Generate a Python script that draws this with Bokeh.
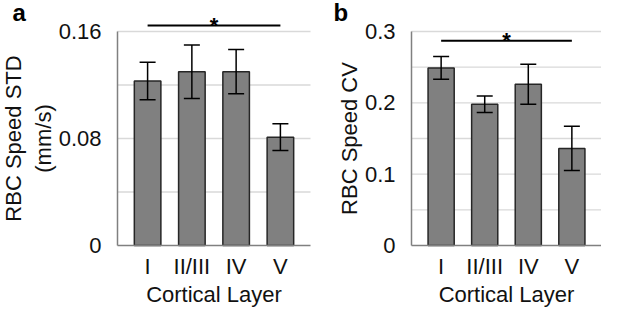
from bokeh.plotting import figure
from bokeh.models import Range1d, FixedTicker, Whisker, ColumnDataSource, Label
from bokeh.core.properties import value
from bokeh.layouts import row
from bokeh.embed import file_html
from bokeh.resources import INLINE

# ---- data ----
layers = ["I", "II/III", "IV", "V"]
std_mean = [0.123, 0.130, 0.130, 0.081]
std_err = [0.014, 0.020, 0.0165, 0.010]
cv_mean = [0.249, 0.198, 0.226, 0.136]
cv_err = [0.016, 0.0115, 0.028, 0.031]
std_ticks = [0, 0.08, 0.16]
std_tick_labels = ["0", "0.08", "0.16"]
std_grid = [0.04, 0.08, 0.12, 0.16]
cv_ticks = [0, 0.1, 0.2, 0.3]
cv_tick_labels = ["0", "0.1", "0.2", "0.3"]
cv_grid = [0.05, 0.1, 0.15, 0.2, 0.25, 0.3]
sig_a = 0.1645
sig_b = 0.287

# ---- style / layout ----
FONT = "Liberation Sans"
FS = "22px"
FIG_H = 307
ZERO_PX = 245     # zero line, pixels from the top
LEVEL_PX = 214    # pixels from zero to the top tick
PAD = 0.68        # half gap at the ends, category units


def panel(mean, err, ticks, tick_labels, grid, ylabel, letter, sig_y,
          width, axis_px, region_w, letter_x):
    n = len(layers)
    xs = list(range(1, n + 1))
    x0, x1 = 1 - PAD, n + PAD
    scale = region_w / (x1 - x0)
    x_left = x0 - axis_px / scale
    x_right = x0 + (width - axis_px) / scale
    top_tick = ticks[-1]
    ymax = top_tick * ZERO_PX / LEVEL_PX
    ymin = -top_tick * (FIG_H - ZERO_PX) / LEVEL_PX

    src = ColumnDataSource(dict(x=xs, top=mean,
                                upper=[m + e for m, e in zip(mean, err)],
                                lower=[m - e for m, e in zip(mean, err)]))
    p = figure(width=width, height=FIG_H, frame_width=width,
               frame_height=FIG_H,
               x_range=Range1d(x_left, x_right), y_range=Range1d(ymin, ymax),
               output_backend="svg", toolbar_location=None,
               min_border_left=0, min_border_right=0,
               min_border_top=0, min_border_bottom=0)
    p.outline_line_color = None
    p.background_fill_color = "white"
    p.border_fill_color = "white"
    p.xgrid.visible = False
    p.ygrid.visible = False

    # horizontal grid lines limited to the plotting region
    p.segment(x0=[x0] * len(grid), x1=[x1] * len(grid), y0=grid, y1=grid,
              line_color="#d9d9d9", line_width=1.3)

    p.vbar(x="x", top="top", bottom=0, width=0.6, source=src,
           fill_color="#808080", line_color="#262626", line_width=1.5)
    w = Whisker(base="x", upper="upper", lower="lower", source=src,
                line_color="black", line_width=1.5, level="overlay")
    for h in (w.upper_head, w.lower_head):
        h.size = 16
        h.line_width = 1.5
        h.line_color = "black"
    p.add_layout(w)

    # significance bar
    p.segment(x0=[xs[0]], x1=[xs[-1]], y0=[sig_y], y1=[sig_y],
              line_color="black", line_width=1.8)
    p.text(x=[(xs[0] + xs[-1]) / 2], y=[sig_y], text=["*"],
           text_align="center", text_baseline="alphabetic",
           text_font=value(FONT), text_font_size="22px",
           text_font_style="bold", text_color="black")

    xa, ya = p.xaxis[0], p.yaxis[0]
    xa.ticker = FixedTicker(ticks=xs)
    xa.major_label_overrides = {x: l for x, l in zip(xs, layers)}
    xa.bounds = (x0, x1)
    xa.fixed_location = 0
    ya.ticker = FixedTicker(ticks=ticks)
    ya.major_label_overrides = {t: l for t, l in zip(ticks, tick_labels)}
    ya.bounds = (ticks[0], top_tick)
    ya.fixed_location = x0
    for ax in (xa, ya):
        ax.major_tick_line_color = None
        ax.minor_tick_line_color = None
        ax.axis_line_color = "#808080"
        ax.axis_line_width = 1.5
        ax.major_label_text_font = FONT
        ax.major_label_text_font_size = FS
        ax.major_label_text_color = "#111111"
        ax.axis_label_text_font = FONT
        ax.axis_label_text_font_size = FS
        ax.axis_label_text_font_style = "normal"
        ax.axis_label_text_color = "#111111"
    xa.axis_label = "Cortical Layer"
    xa.major_label_standoff = 2
    xa.axis_label_standoff = 0
    ya.axis_label = ylabel
    ya.major_label_standoff = 10
    ya.axis_label_standoff = 0

    p.add_layout(Label(x=letter_x, y=FIG_H - 25, x_units="screen",
                       y_units="screen", text=letter, text_font=FONT,
                       text_font_size="24px", text_font_style="bold",
                       text_color="black"))
    return p


pa = panel(std_mean, std_err, std_ticks, std_tick_labels, std_grid,
           "RBC Speed STD\n(mm/s)", "a", sig_a,
           width=326, axis_px=117, region_w=193, letter_x=12)
pb = panel(cv_mean, cv_err, cv_ticks, cv_tick_labels, cv_grid,
           "RBC Speed CV", "b", sig_b,
           width=275, axis_px=85, region_w=190, letter_x=7)

layout = row(pa, pb, spacing=0)
open("out.html", "w").write(file_html(layout, INLINE))
